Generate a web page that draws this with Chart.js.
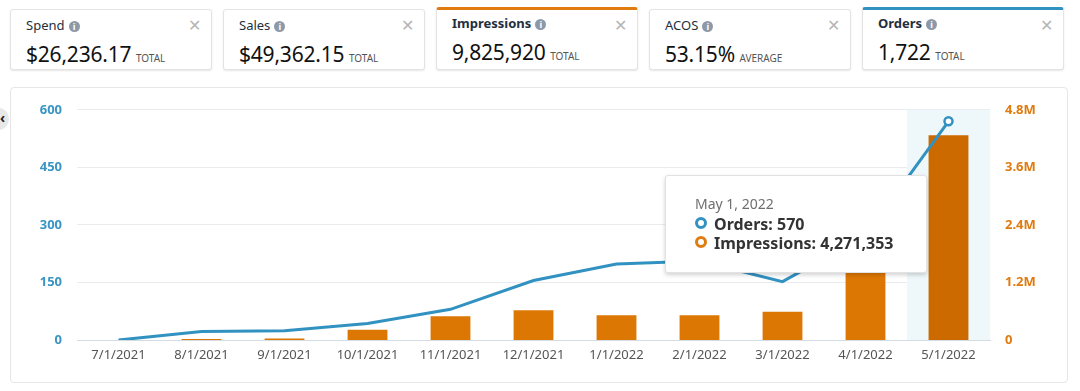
<!DOCTYPE html>
<html>
<head>
<meta charset="utf-8">
<script src="https://cdn.jsdelivr.net/npm/chart.js@4"></script>
<style>
  html, body { margin: 0; padding: 0; background: #fff; width: 1080px; height: 391px; overflow: hidden; font-family: "Noto Sans", sans-serif; }
  .card { position: absolute; top: 9px; width: 202px; height: 61px; border: 1px solid #e4e4e4; border-radius: 3px; box-shadow: 0 1px 2px rgba(0,0,0,0.1); background: #fff; box-sizing: border-box; }
  .card.sel-orange { border-top: 3px solid #e07b10; top: 7px; height: 63px; }
  .card.sel-blue { border-top: 3px solid #3192c1; top: 7px; height: 63px; }
  .card .ttl { position: absolute; left: 15px; top: 6px; font-size: 13px; color: #232f3e; }
  .card.sel-orange .ttl, .card.sel-blue .ttl { font-weight: bold; top: 4px; }
  .card .info { display: inline-block; width: 11px; height: 11px; border-radius: 50%; background: #8d99a8; color: #fff; font-size: 9px; line-height: 11px; text-align: center; font-weight: bold; vertical-align: 0px; margin-left: 4px; }
  .card .x { position: absolute; right: 10px; top: 4px; font-size: 16px; color: #b5b5b5; }
  .card .val { position: absolute; left: 15px; top: 30px; font-size: 21px; color: #111; white-space: nowrap; letter-spacing: -0.2px; }
  .card.sel-orange .val, .card.sel-blue .val { top: 28px; }
  .card .val small { font-size: 10px; color: #555; margin-left: 2px; letter-spacing: 0; }
  #panel { position: absolute; left: 10px; top: 87px; width: 1058px; height: 296px; border: 1px solid #e6e6e6; border-radius: 4px; box-sizing: border-box; }
  #wrap { position: absolute; left: 10px; top: 87px; width: 1058px; height: 296px; }
  #back { position: absolute; left: -11px; top: 108px; width: 20px; height: 22px; border-radius: 50%; background: #e8e8e8; font-size: 14px; line-height: 20px; text-align: right; color: #222; font-weight: bold; box-sizing: border-box; padding-right: 4px; }
  #tip { position: absolute; left: 665px; top: 175px; width: 262px; height: 98px; background: #fff; border: 1px solid #e2e2e2; border-radius: 3px; box-shadow: 0 2px 4px rgba(0,0,0,0.18); box-sizing: border-box; }
  #tip .d { position: absolute; left: 29px; top: 18px; font-size: 14px; color: #6f6f6f; }
  #tip .r { position: absolute; left: 29px; font-size: 16px; font-weight: bold; color: #333; white-space: nowrap; }
  #tip .dot { display: inline-block; width: 6px; height: 6px; border-radius: 50%; border: 3px solid; margin-right: 7px; vertical-align: 1px; }
</style>
</head>
<body>
<div class="card" style="left:10px"><div class="ttl">Spend<span class="info">i</span></div><div class="x">✕</div><div class="val">$26,236.17<small> TOTAL</small></div></div>
<div class="card" style="left:223px"><div class="ttl">Sales<span class="info">i</span></div><div class="x">✕</div><div class="val">$49,362.15<small> TOTAL</small></div></div>
<div class="card sel-orange" style="left:436px"><div class="ttl">Impressions<span class="info">i</span></div><div class="x">✕</div><div class="val">9,825,920<small> TOTAL</small></div></div>
<div class="card" style="left:649px"><div class="ttl">ACOS<span class="info">i</span></div><div class="x">✕</div><div class="val">53.15%<small> AVERAGE</small></div></div>
<div class="card sel-blue" style="left:862px"><div class="ttl">Orders<span class="info">i</span></div><div class="x">✕</div><div class="val">1,722<small> TOTAL</small></div></div>

<div id="panel"></div>
<div id="wrap"><canvas id="chart" width="1058" height="296"></canvas></div>
<div id="back">‹</div>

<div id="tip">
  <div class="d">May 1, 2022</div>
  <div class="r" style="top:37px"><span class="dot" style="border-color:#3192c1"></span>Orders: 570</div>
  <div class="r" style="top:56px"><span class="dot" style="border-color:#e07b10"></span>Impressions: 4,271,353</div>
</div>

<script>
// ===== DATA =====
const months = ['7/1/2021', '8/1/2021', '9/1/2021', '10/1/2021', '11/1/2021', '12/1/2021',
  '1/1/2022', '2/1/2022', '3/1/2022', '4/1/2022', '5/1/2022'];
const orders = [0, 22, 24, 43, 80, 155, 198, 206, 152, 272, 570];
const impressions = [0, 20000, 30000, 212000, 494000, 618000, 515000, 515000, 591000, 2559567, 4271353];
const ordersTicks = [0, 150, 300, 450, 600];
const impressionTickLabels = ['0', '1.2M', '2.4M', '3.6M', '4.8M'];
const hoverIndex = 10;

// ===== COLORS =====
const COLORS = {
  blue: '#3192c1',
  blueTick: '#3a95c4',
  orange: '#dd7703',
  orangeHover: '#cc6a00',
  orangeTick: '#e07b10',
  band: '#eef7fa',
  grid: '#e9ebee',
  axis: '#d5dbe3',
  label: '#555',
};

const barColors = impressions.map((_, i) => (i === hoverIndex ? COLORS.orangeHover : COLORS.orange));
const pointRadius = orders.map((_, i) => (i === hoverIndex ? 4 : 0));

// hover band behind the hovered category
const hoverBand = {
  id: 'hoverBand',
  beforeDatasetsDraw(chart) {
    const { ctx, chartArea, scales } = chart;
    const x = scales.x;
    const half = (x.getPixelForValue(1) - x.getPixelForValue(0)) / 2;
    const cx = x.getPixelForValue(hoverIndex);
    ctx.save();
    ctx.fillStyle = COLORS.band;
    ctx.fillRect(cx - half, chartArea.top, half * 2, chartArea.bottom - chartArea.top);
    ctx.restore();
  },
};

new Chart(document.getElementById('chart'), {
  data: {
    labels: months,
    datasets: [
      {
        type: 'line',
        label: 'Orders',
        data: orders,
        yAxisID: 'y',
        borderColor: COLORS.blue,
        borderWidth: 3,
        tension: 0,
        pointRadius,
        pointBorderWidth: 2.5,
        pointBackgroundColor: '#fff',
        pointBorderColor: COLORS.blue,
        order: 0,
      },
      {
        type: 'bar',
        label: 'Impressions',
        data: impressions,
        yAxisID: 'y1',
        backgroundColor: barColors,
        borderColor: barColors,
        borderWidth: 0,
        barPercentage: 0.48,
        categoryPercentage: 1,
        order: 1,
      },
    ],
  },
  options: {
    responsive: false,
    animation: false,
    layout: { padding: { top: 20, left: 0, right: 0, bottom: 0 } },
    plugins: { legend: { display: false }, tooltip: { enabled: false } },
    scales: {
      x: {
        offset: true,
        grid: { display: false, drawTicks: false },
        border: { color: COLORS.axis, width: 1 },
        ticks: { color: COLORS.label, font: { family: 'Noto Sans', size: 13 }, padding: 7, maxRotation: 0, autoSkip: false },
        afterFit: (s) => { s.height = 43; },
      },
      y: {
        position: 'left',
        min: ordersTicks[0],
        max: ordersTicks[ordersTicks.length - 1],
        afterBuildTicks: (s) => { s.ticks = ordersTicks.map((v) => ({ value: v })); },
        grid: { color: COLORS.grid, drawTicks: false },
        border: { display: false },
        ticks: { color: COLORS.blueTick, font: { family: 'Noto Sans', size: 13, weight: 'bold' }, padding: 15 },
        afterFit: (s) => { s.width = 67; },
      },
      y1: {
        position: 'right',
        min: 0,
        max: 4800000,
        afterBuildTicks: (s) => { s.ticks = impressionTickLabels.map((_, i) => ({ value: i * 1200000 })); },
        grid: { display: false, drawTicks: false },
        border: { display: false },
        ticks: {
          color: COLORS.orangeTick,
          font: { family: 'Noto Sans', size: 13, weight: 'bold' },
          padding: 15,
          callback: (v, i) => impressionTickLabels[i],
        },
        afterFit: (s) => { s.width = 78; },
      },
    },
  },
  plugins: [hoverBand],
});
</script>
</body>
</html>
